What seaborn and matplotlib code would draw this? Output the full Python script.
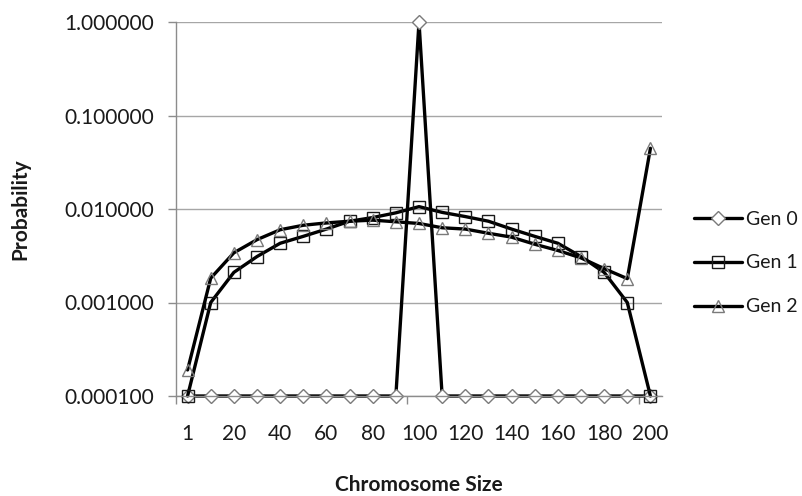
import numpy as np
import pandas as pd
import matplotlib
matplotlib.use("Agg")
import matplotlib.pyplot as plt
import seaborn as sns
from matplotlib.ticker import FixedLocator, FixedFormatter, NullFormatter

categories = ["1", "10", "20", "30", "40", "50", "60", "70", "80", "90", "100",
              "110", "120", "130", "140", "150", "160", "170", "180", "190", "200"]
tick_labels = ["1", "20", "40", "60", "80", "100", "120", "140", "160", "180", "200"]

gen0 = [0.0001, 0.0001, 0.0001, 0.0001, 0.0001, 0.0001, 0.0001, 0.0001, 0.0001, 0.0001, 1.0,
        0.0001, 0.0001, 0.0001, 0.0001, 0.0001, 0.0001, 0.0001, 0.0001, 0.0001, 0.0001]
gen1 = [0.0001, 0.0010, 0.0021, 0.0031, 0.0043, 0.0051, 0.0061, 0.0074, 0.0081, 0.0091, 0.0106,
        0.0092, 0.0083, 0.0074, 0.0061, 0.0051, 0.0043, 0.0031, 0.0021, 0.0010, 0.0001]
gen2 = [0.00019, 0.00182, 0.0034, 0.0047, 0.0060, 0.0067, 0.0071, 0.0074, 0.0076, 0.0073, 0.0070,
        0.0063, 0.0061, 0.0055, 0.0050, 0.0042, 0.0036, 0.0030, 0.0023, 0.0018, 0.0446]
series_names = ["Gen 0", "Gen 1", "Gen 2"]

sns.set_style("white")
plt.rcParams["font.family"] = ["Lato", "DejaVu Sans"]

W, H = 803, 496
fig = plt.figure(figsize=(W / 100, H / 100), dpi=100)
left, right, top, bottom = 176, 662, 22, 396
ax = fig.add_axes([left / W, 1 - bottom / H, (right - left) / W, (bottom - top) / H])

pos = np.arange(len(categories))
styles = [
    dict(marker="D", markersize=7.5, markeredgecolor="#7a7a7a", markerfacecolor="white"),
    dict(marker="s", markersize=8.5, markeredgecolor="#1a1a1a", markerfacecolor="none"),
    dict(marker="^", markersize=9, markeredgecolor="#7a7a7a", markerfacecolor="none"),
]
for name, vals, st in zip(series_names, [gen0, gen1, gen2], styles):
    df = pd.DataFrame({"pos": pos, "prob": vals})
    sns.lineplot(data=df, x="pos", y="prob", ax=ax, color="black", linewidth=2.4,
                 markeredgewidth=1.0, label=name, legend=False, clip_on=False, **st)

ax.set_yscale("log")
ax.set_ylim(1e-4, 1.0)
ax.set_xlim(-0.5, len(categories) - 0.5)
yt = [1e-4, 1e-3, 1e-2, 1e-1, 1.0]
ax.yaxis.set_major_locator(FixedLocator(yt))
ax.yaxis.set_major_formatter(FixedFormatter([f"{v:.6f}" for v in yt]))
ax.yaxis.set_minor_formatter(NullFormatter())
ax.yaxis.set_minor_locator(FixedLocator([]))
ax.grid(axis="y", color="#a6a6a6", linewidth=1.0)
ax.grid(axis="x", visible=False)

ax.xaxis.set_major_locator(FixedLocator(pos[::2]))
ax.xaxis.set_major_formatter(FixedFormatter(tick_labels))
ax.xaxis.set_minor_locator(FixedLocator([-0.5, 9.5, 19.5]))

for s in ["top", "right"]:
    ax.spines[s].set_visible(False)
for s in ["left", "bottom"]:
    ax.spines[s].set_color("#8c8c8c")
    ax.spines[s].set_linewidth(1.0)

ax.tick_params(axis="y", which="major", length=6, width=1, color="#8c8c8c",
               labelsize=15, labelcolor="#1a1a1a", pad=10, left=True, direction="out")
ax.tick_params(axis="x", which="major", length=0, labelsize=15, labelcolor="#1a1a1a", pad=20)
ax.tick_params(axis="x", which="minor", length=6, width=1, color="#8c8c8c",
               bottom=True, direction="out")

ax.set_xlabel("Chromosome Size", fontsize=15, fontweight="bold", color="#1a1a1a", va="center")
ax.set_ylabel("Probability", fontsize=15, fontweight="bold", color="#1a1a1a", va="center")
ax.xaxis.set_label_coords(0.5, (bottom - 485) / (bottom - top))
ax.yaxis.set_label_coords((20 - left) / (right - left), 0.5)

handles = ax.get_lines()[:3]
fig.legend(handles, series_names, loc="center left", bbox_to_anchor=(694 / W, 1 - 263 / H),
           frameon=False, fontsize=14, borderpad=0, borderaxespad=0, handlelength=2.45,
           handletextpad=0.2, labelspacing=1.38, labelcolor="#1a1a1a")

fig.savefig("out.png", dpi=100)
